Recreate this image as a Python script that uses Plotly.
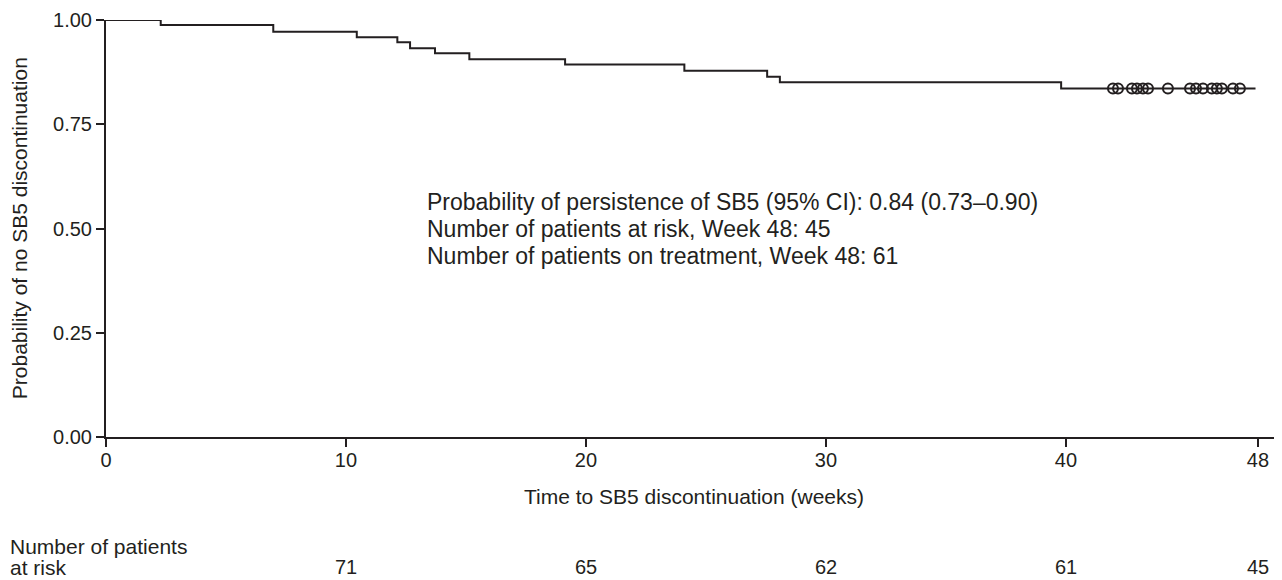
import plotly.graph_objects as go

# Kaplan-Meier step data (weeks, probability of no SB5 discontinuation)
event_times = [0, 2.28, 6.97, 10.45, 12.14, 12.67, 13.71, 15.14, 19.13, 24.1, 27.55, 28.08, 39.8, 47.9]
survival = [1.0, 0.988, 0.972, 0.9585, 0.9465, 0.932, 0.920, 0.906, 0.893, 0.878, 0.864, 0.851, 0.836, 0.836]

# Censored observations
censor_times = [41.96, 42.17, 42.75, 42.96, 43.21, 43.42, 44.25, 45.17, 45.42, 45.71,
                46.08, 46.29, 46.5, 46.96, 47.25]
censor_surv = [0.836] * len(censor_times)

# Ticks
x_ticks = [0, 10, 20, 30, 40, 48]
y_ticks = [0, 0.25, 0.5, 0.75, 1.0]
y_tick_labels = ["0.00", "0.25", "0.50", "0.75", "1.00"]

# Number at risk table
risk_weeks = [10, 20, 30, 40, 48]
risk_counts = [71, 65, 62, 61, 45]

info_lines = [
    "Probability of persistence of SB5 (95% CI): 0.84 (0.73–0.90)",
    "Number of patients at risk, Week 48: 45",
    "Number of patients on treatment, Week 48: 61",
]

INK = "#231f20"
FONT = "Liberation Sans, Arial, sans-serif"

fig = go.Figure()
fig.add_trace(go.Scatter(
    x=event_times, y=survival, mode="lines", line=dict(shape="hv", color=INK, width=2),
    showlegend=False, hoverinfo="skip"))
fig.add_trace(go.Scatter(
    x=censor_times, y=censor_surv, mode="markers",
    marker=dict(symbol="circle-open", size=10, color=INK, line=dict(width=2, color=INK)),
    showlegend=False, cliponaxis=False))

annotations = []
for i, line in enumerate(info_lines):
    annotations.append(dict(x=13.3, y=0.5635 - i * 0.0647, xref="x", yref="y", text=line,
                            showarrow=False, xanchor="left", yanchor="middle",
                            font=dict(size=23, color=INK, family=FONT)))
for w, n in zip(risk_weeks, risk_counts):
    annotations.append(dict(x=w, y=-0.312, xref="x", yref="paper", text=str(n),
                            showarrow=False, xanchor="center", yanchor="middle",
                            font=dict(size=20, color=INK, family=FONT)))
# row label
annotations.append(dict(x=-0.0835, y=-0.262, xref="paper", yref="paper", text="Number of patients",
                        showarrow=False, xanchor="left", yanchor="middle",
                        font=dict(size=21, color=INK, family=FONT)))
annotations.append(dict(x=-0.0835, y=-0.312, xref="paper", yref="paper", text="at risk",
                        showarrow=False, xanchor="left", yanchor="middle",
                        font=dict(size=21, color=INK, family=FONT)))
# axis titles
annotations.append(dict(x=24.5, y=-0.142, xref="x", yref="paper",
                        text="Time to SB5 discontinuation (weeks)", showarrow=False,
                        xanchor="center", yanchor="middle",
                        font=dict(size=21, color=INK, family=FONT)))
annotations.append(dict(x=-0.0735, y=0.5, xref="paper", yref="paper",
                        text="Probability of no SB5 discontinuation", showarrow=False,
                        textangle=-90, xanchor="center", yanchor="middle",
                        font=dict(size=21, color=INK, family=FONT)))

fig.update_layout(
    width=1274, height=572,
    margin=dict(l=98, r=2, t=12, b=143),
    paper_bgcolor="white", plot_bgcolor="white",
    font=dict(family=FONT, color=INK, size=20),
    annotations=annotations,
    xaxis=dict(range=[0, 48.92], tickvals=x_ticks, ticktext=[str(t) for t in x_ticks],
               ticks="outside", ticklen=8, tickwidth=2, tickcolor=INK,
               showline=True, linecolor=INK, linewidth=2, showgrid=False, zeroline=False,
               ticklabelstandoff=-4,
               tickfont=dict(size=20, color=INK, family=FONT), automargin=False),
    yaxis=dict(range=[0, 1.0], tickvals=y_ticks, ticktext=y_tick_labels,
               ticks="outside", ticklen=8, tickwidth=2, tickcolor=INK,
               showline=True, linecolor=INK, linewidth=2, showgrid=False, zeroline=False,
               tickfont=dict(size=20, color=INK, family=FONT), automargin=False),
)

fig.write_html("out.html")
